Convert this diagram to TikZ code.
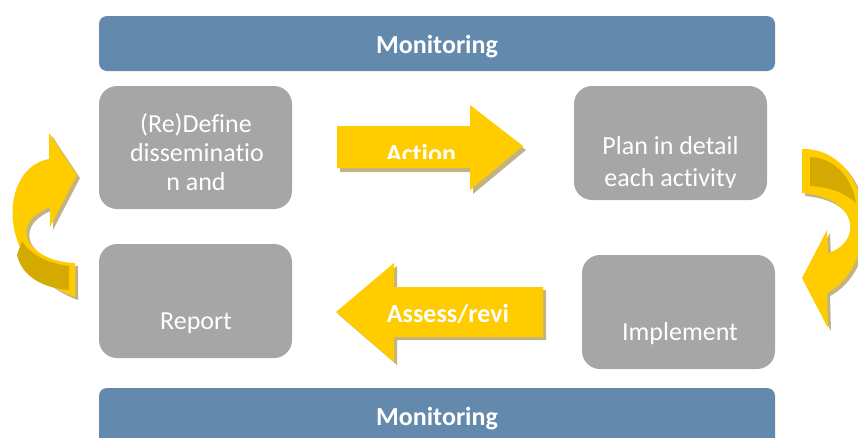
\documentclass[tikz,border=0pt]{standalone}
\usepackage{fontspec}
\setmainfont{Carlito}[Ligatures={NoCommon}]
\definecolor{barblue}{HTML}{6389AC}
\definecolor{boxgray}{HTML}{A6A6A6}
\definecolor{arrowyellow}{HTML}{FFCC00}
\definecolor{arrowshadow}{HTML}{C2B383}
\definecolor{arrowdark}{HTML}{D4A900}
\tikzset{
  bar/.style={fill=barblue, draw=none, rounded corners=8pt, inner sep=0pt, outer sep=0pt},
  graybox/.style={fill=boxgray, draw=none, rounded corners=18pt, inner sep=0pt, outer sep=0pt},
  boxtext/.style={text=white, font=\fontsize{26}{29}\selectfont, anchor=base, inner sep=0pt},
  boldtext/.style={text=white, font=\fontsize{26}{29}\selectfont\bfseries, anchor=base, inner sep=0pt},
  yarrow/.style={fill=arrowyellow, draw=none},
  yshadow/.style={fill=arrowshadow, draw=none},
  ydark/.style={fill=arrowdark, draw=none}
}
\begin{document}
\begin{tikzpicture}[x=1pt,y=-1pt]
\useasboundingbox (0,0) rectangle (858,437);
\clip (0,0) rectangle (858,437);

% bars
\node[bar, minimum width=676pt, minimum height=55pt] (bartop) at (437,43.5) {};
\node[boldtext] (montop) at (437,53) {Monitoring};
\node[bar, minimum width=676pt, minimum height=70pt] (barbottom) at (437,423) {};
\node[boldtext] (monbottom) at (437,425) {Monitoring};

% boxes
\node[graybox, minimum width=193pt, minimum height=123pt] (define) at (195.5,147.5) {};
\node[graybox, minimum width=193pt, minimum height=114pt] (plan) at (670.5,143) {};
\node[graybox, minimum width=193pt, minimum height=114pt] (report) at (195.5,301) {};
\node[graybox, minimum width=193pt, minimum height=114pt] (implement) at (678.5,312) {};

\node[boxtext] (define1) at (196,132.5) {(Re)Define};
\node[boxtext] (define2) at (197,161) {disseminatio};
\node[boxtext] (define3) at (196,190) {n and};
\node[boxtext] (plan1) at (670.5,154) {Plan in detail};
\begin{scope}
  \clip (574,160) rectangle (767,187.5);
  \node[boxtext] (plan2) at (670.5,186) {each activity};
\end{scope}
\node[boxtext] (reporttext) at (196,329) {Report};
\node[boxtext] (implementtext) at (680,340) {Implement};

% Action arrow
\path[yshadow] (340,130) -- (473,130) -- (473,109) -- (526,150) -- (473,194) -- (473,172) -- (340,172) -- cycle;
\path[yarrow] (337,126) -- (470,126) -- (470,105) -- (523,146) -- (470,190) -- (470,168) -- (337,168) -- cycle;
\begin{scope}
  \clip (360,120) rectangle (470,158);
  \node[boldtext] (action) at (421,162) {Action};
\end{scope}

% Assess arrow
\path[yshadow] (339,315) -- (397,266) -- (397,290) -- (546,290) -- (546,340) -- (397,340) -- (397,365) -- cycle;
\path[yarrow] (336,312) -- (394,263) -- (394,287) -- (543,287) -- (543,337) -- (394,337) -- (394,362) -- cycle;
\node[boldtext] (assess) at (448,322) {Assess/revi};

% left curved arrow
\begin{scope}[shift={(3,3)}]
\path[yshadow] (75,263) .. controls (30,262) and (5,225) .. (50,207) -- (50,227) -- (77,175) -- (49,133) -- (49,159)
   .. controls (-2,168) and (-5,268) .. (75,297) -- cycle;
\end{scope}
\path[yarrow] (75,263) .. controls (30,262) and (5,225) .. (50,207) -- (50,227) -- (77,175) -- (49,133) -- (49,159)
   .. controls (-2,168) and (-5,268) .. (75,297) -- cycle;
\path[ydark] (22,241) .. controls (32,256) and (48,263) .. (69,266) -- (69,290) .. controls (42,288) and (22,276) .. (17,255) -- cycle;

% right curved arrow
\begin{scope}[shift={(3,3)}]
\path[yshadow] (802,149) .. controls (872,148) and (885,262) .. (827,293) -- (828,328) -- (802,278) -- (827,230) -- (828,253)
   .. controls (862,243) and (860,198) .. (802,193) -- cycle;
\end{scope}
\path[yarrow] (802,149) .. controls (872,148) and (885,262) .. (827,293) -- (828,328) -- (802,278) -- (827,230) -- (828,253)
   .. controls (862,243) and (860,198) .. (802,193) -- cycle;
\path[ydark] (810,157) .. controls (835,158) and (852,178) .. (856,203) .. controls (845,193) and (830,187) .. (810,186) -- cycle;
\end{tikzpicture}
\end{document}
